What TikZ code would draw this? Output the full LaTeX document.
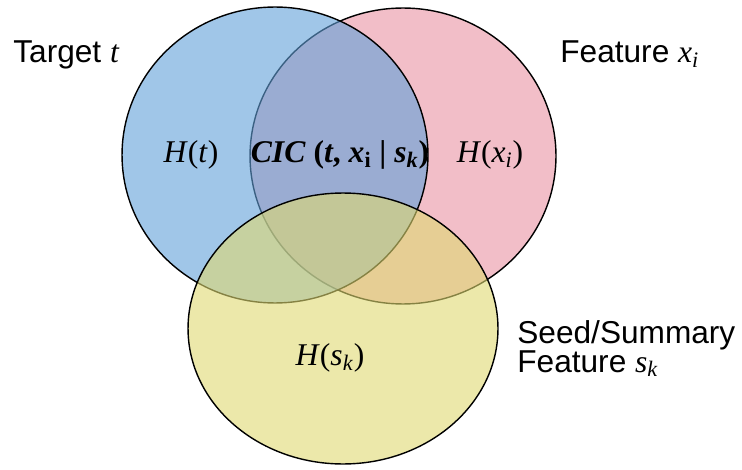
\documentclass[tikz,border=0pt]{standalone}
\usepackage{fontspec}
\usetikzlibrary{shapes.geometric}
\setmainfont{Liberation Serif}
\newfontfamily\sansfont{Liberation Sans}
\definecolor{pinkset}{RGB}{233,147,163}
\definecolor{blueset}{RGB}{97,160,217}
\definecolor{yellowset}{RGB}{223,217,113}

\begin{document}
\begin{tikzpicture}[x=0.02cm,y=-0.02cm,
  venn/.style={ellipse,draw=black,line width=0.8pt,fill opacity=0.6,
    text opacity=1,minimum width=6.12cm,minimum height=5.92cm,inner sep=0pt},
  side/.style={font=\fontsize{18}{16.5}\selectfont\sansfont,inner sep=0pt},
  ent/.style={font=\fontsize{18}{20}\selectfont,inner sep=0pt}]
\useasboundingbox (0,0) rectangle (742,469);

% the three sets, back to front
\node[venn,fill=pinkset] (pink) at (403,156) {};
\node[venn,fill=blueset] (blue) at (275,155) {};
\node[venn,fill=yellowset,minimum width=6.2cm,minimum height=5.42cm]
  (yellow) at (343,328.5) {};

% entropies inside the sets
\node[ent] (ht) at (191,155) {\textit{H}(\textit{t})};
\node[ent] (hx) at (490,155) {\textit{H}(\textit{x}\textsubscript{\textit{i}})};
\node[ent] (hs) at (330,358) {\textit{H}(\textit{s}\textsubscript{\textit{k}})};
\node[ent] (cic) at (340,155)
  {\textbf{\textit{CIC} (\textit{t}, \textit{x}\textsubscript{i} | \textit{s}\textsubscript{\textit{k}})}};

% names of the sets
\node[side,anchor=base west] (target) at (13,63) {Target {\rmfamily\textit{t}}};
\node[side,anchor=base west] (feature) at (560,63)
  {Feature {\rmfamily\textit{x}\textsubscript{\textit{i}}}};
\node[side,anchor=base west,align=left] (seed) at (517,372)
  {Seed/Summary\\Feature {\rmfamily\textit{s}\textsubscript{\textit{k}}}};
\end{tikzpicture}
\end{document}
